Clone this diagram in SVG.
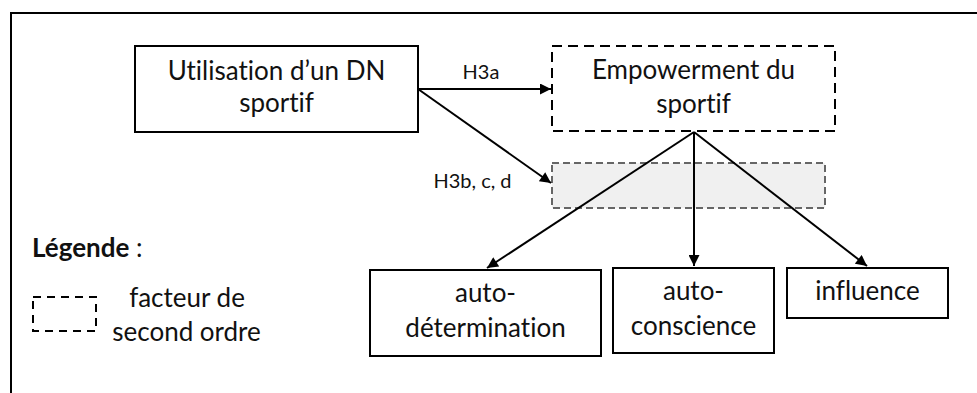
<svg xmlns="http://www.w3.org/2000/svg" width="977" height="393" viewBox="0 0 977 393">
<style>
.box{fill:#fff;stroke:#000;stroke-width:2}
.dash{fill:#fff;stroke:#000;stroke-width:2;stroke-dasharray:10 6}
.gray{fill:#f0f0f0;stroke:#666;stroke-width:2;stroke-dasharray:7 4}
text{font-variant-ligatures:none;font-feature-settings:"liga" 0}
.t{font-family:Lato,"Liberation Sans",sans-serif;font-size:26px;fill:#111;text-anchor:middle}
.s{font-family:Lato,"Liberation Sans",sans-serif;font-size:20px;fill:#111;text-anchor:middle}
.c{stroke:#000;stroke-width:2;fill:none;marker-end:url(#ah)}
</style>
<defs>
<marker id="ah" viewBox="0 0 10 10" refX="10" refY="5" markerWidth="6.5" markerHeight="5.5" markerUnits="strokeWidth" orient="auto">
<path d="M0,0 L10,5 L0,10 Z" fill="#000"/>
</marker>
</defs>
<rect width="977" height="393" fill="#fff"/>
<path d="M11 393 V13 H977" fill="none" stroke="#000" stroke-width="2"/>
<g id="gray-band"><rect class="gray" x="552" y="163" width="273" height="45"/></g>
<g id="connectors">
<line class="c" x1="418" y1="89" x2="551" y2="89"/>
<line class="c" x1="418" y1="89" x2="551" y2="183"/>
<line class="c" x1="694" y1="132" x2="487" y2="268"/>
<line class="c" x1="694" y1="132" x2="694" y2="266"/>
<line class="c" x1="694" y1="132" x2="867" y2="266"/>
</g>
<g id="utilisation"><rect class="box" x="135" y="46" width="283" height="86"/>
<text class="t" x="276.5" y="80">Utilisation d’un DN</text><text class="t" x="276.5" y="112">sportif</text></g>
<g id="empowerment"><rect class="dash" x="552" y="46" width="283" height="85"/>
<text class="t" x="693.5" y="79">Empowerment du</text><text class="t" x="693.5" y="113">sportif</text></g>
<g id="autodetermination"><rect class="box" x="370" y="270" width="231" height="86"/>
<text class="t" x="485.5" y="302">auto-</text><text class="t" x="485.5" y="337">détermination</text></g>
<g id="autoconscience"><rect class="box" x="613" y="268" width="161" height="85"/>
<text class="t" x="693.5" y="300">auto-</text><text class="t" x="693.5" y="335">conscience</text></g>
<g id="influence"><rect class="box" x="787" y="268" width="161" height="50"/>
<text class="t" x="867.5" y="300">influence</text></g>
<g id="labels">
<text class="s" x="481" y="79">H3a</text>
<text class="s" x="472.5" y="188">H3b, c, d</text>
</g>
<g id="legend">
<text class="t" x="32" y="257" style="text-anchor:start"><tspan font-weight="bold">Légende</tspan> :</text>
<rect x="33" y="297" width="63" height="34" fill="none" stroke="#000" stroke-width="2" stroke-dasharray="8 6"/>
<text class="t" x="187" y="307">facteur de</text>
<text class="t" x="186.5" y="341">second ordre</text>
</g>
</svg>
